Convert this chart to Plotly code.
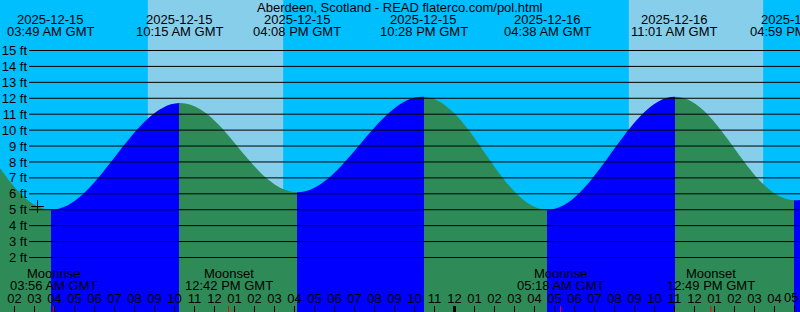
import pandas as pd
import plotly.graph_objects as go

# ---------------- data ----------------
TITLE = "Aberdeen, Scotland - READ flaterco.com/pol.html"

# tide extremes (first two and last lie outside the visible window)
tide_times = ["2025-12-14 15:40", "2025-12-14 21:55", "2025-12-15 03:49", "2025-12-15 10:15",
              "2025-12-15 16:08", "2025-12-15 22:28", "2025-12-16 04:38",
              "2025-12-16 11:01", "2025-12-16 16:59", "2025-12-16 23:25"]
tide_heights = [5.8, 11.7, 5.0, 11.7, 6.1, 12.1, 5.0, 12.1, 5.6, 11.8]

sunrise_times = ["2025-12-15 08:40", "2025-12-16 08:43"]
sunset_times = ["2025-12-15 15:26", "2025-12-16 15:26"]

moon_times = ["2025-12-15 03:56", "2025-12-15 12:42", "2025-12-16 05:18", "2025-12-16 12:49"]
moon_events = ["Moonrise", "Moonset", "Moonrise", "Moonset"]

midnights = ["2025-12-16 00:00"]

now_time = ["2025-12-15 03:09"]
now_height = [5.2]

level_ticks = list(range(2, 16))
level_labels = [f"{v} ft" for v in level_ticks]

view_start = "2025-12-15 01:16:30"
view_end = "2025-12-16 17:16:30"
y_range = [-1.4229, 18.1715]

# ---------------- styling ----------------
NIGHT = "#00BFFF"
DAY = "#87CEEB"
RISING = "#0000FF"
FALLING = "#2E8B57"
FONT = dict(family="Liberation Sans, Arial, sans-serif", size=13, color="black")
H = 312

t = pd.to_datetime(tide_times)
span = t[-1] - t[0]
frac = [(ti - t[0]) / span for ti in t]
scale = []
for i in range(len(t) - 1):
    c = RISING if tide_heights[i + 1] > tide_heights[i] else FALLING
    scale.append([float(frac[i]), c])
    scale.append([float(frac[i + 1]), c])
scale[0][0] = 0.0
scale[-1][0] = 1.0

fig = go.Figure()
# baseline for the fill
fig.add_trace(go.Scatter(x=[tide_times[0], tide_times[-1]], y=[y_range[0] - 1] * 2,
                         mode="lines", line=dict(width=0), hoverinfo="skip", showlegend=False))
fig.add_trace(go.Scatter(x=tide_times, y=tide_heights, mode="lines",
                         line=dict(shape="spline", smoothing=1.1, width=0),
                         fill="tonexty",
                         fillgradient=dict(type="horizontal", colorscale=scale),
                         hoverinfo="skip", showlegend=False))
fig.add_trace(go.Scatter(x=now_time, y=now_height, mode="markers",
                         marker=dict(symbol="cross-thin", size=9,
                                     line=dict(width=1, color="black"), color="black"),
                         hoverinfo="skip", showlegend=False))

shapes = []
for sr, ss in zip(sunrise_times, sunset_times):
    shapes.append(dict(type="rect", xref="x", yref="paper", x0=sr, x1=ss, y0=0, y1=1,
                       fillcolor=DAY, line=dict(width=0), layer="below"))
for lv in level_ticks:
    shapes.append(dict(type="line", xref="paper", yref="y", x0=29 / 800, x1=1, y0=lv, y1=lv,
                       line=dict(color="black", width=1), layer="above"))
for m in midnights:
    shapes.append(dict(type="line", xref="x", yref="paper", x0=m, x1=m, y0=0, y1=6 / H,
                       line=dict(color="black", width=3), layer="above"))
for m in moon_times:
    shapes.append(dict(type="line", xref="x", yref="paper", x0=m, x1=m, y0=0, y1=6 / H,
                       line=dict(color="red", width=1), layer="above"))

ann = [dict(text=TITLE, x=0.5, xref="paper", y=1 - 7.2 / H, yref="paper",
            showarrow=False, font=FONT, xanchor="center", yanchor="middle")]
vs, ve = pd.Timestamp(view_start), pd.Timestamp(view_end)
for ti, ts in zip(t, tide_times):
    if vs <= ti <= ve:
        ann.append(dict(text=ti.strftime("%Y-%m-%d"), x=ts, xref="x", y=1 - 19.5 / H, yref="paper",
                        showarrow=False, font=FONT, xanchor="center", yanchor="middle"))
        ann.append(dict(text=ti.strftime("%I:%M %p GMT"), x=ts, xref="x", y=1 - 32 / H, yref="paper",
                        showarrow=False, font=FONT, xanchor="center", yanchor="middle"))
for ms, ev in zip(moon_times, moon_events):
    mt = pd.Timestamp(ms)
    ann.append(dict(text=ev, x=ms, xref="x", y=1 - 273 / H, yref="paper",
                    showarrow=False, font=FONT, xanchor="center", yanchor="middle"))
    ann.append(dict(text=mt.strftime("%I:%M %p GMT"), x=ms, xref="x", y=1 - 285.3 / H, yref="paper",
                    showarrow=False, font=FONT, xanchor="center", yanchor="middle"))

# last hour label at the right edge (Plotly hides inside labels that touch the edge)
last_hour = ve.floor("h")
ann.append(dict(text=last_hour.strftime("%I"), x=last_hour.strftime("%Y-%m-%d %H:%M"), xref="x",
                y=1 - 297.5 / H, yref="paper", xshift=-4,
                showarrow=False, font=FONT, xanchor="center", yanchor="middle"))

fig.update_layout(
    width=800, height=H, margin=dict(l=0, r=0, t=0, b=0, pad=0),
    paper_bgcolor=NIGHT, plot_bgcolor=NIGHT,
    shapes=shapes, annotations=ann, showlegend=False,
    xaxis=dict(type="date", range=[view_start, view_end], tick0="2025-12-15 00:00",
               dtick=3600000, tickformat="%I", ticks="inside", ticklen=6, tickwidth=1,
               tickcolor="black", ticklabelposition="inside", tickfont=FONT,
               showgrid=False, zeroline=False, showline=False, fixedrange=True),
    yaxis=dict(range=y_range, anchor="free", position=29 / 800, side="left",
               tickvals=level_ticks, ticktext=level_labels, ticks="", tickfont=FONT,
               ticklabelstandoff=2,
               showgrid=False, zeroline=False, showline=False, fixedrange=True),
)

fig.write_html("out.html")
